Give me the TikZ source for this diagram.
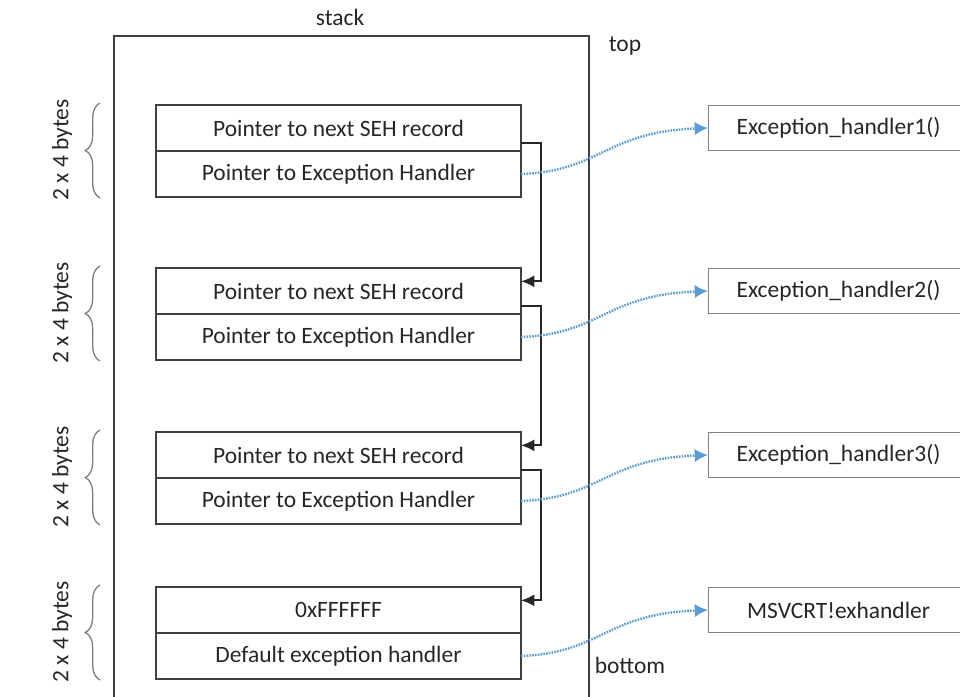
\documentclass[tikz,border=0pt]{standalone}
\usepackage{fontspec}
\setmainfont{Carlito}
\usepackage{tikz}
\usetikzlibrary{arrows.meta,positioning,decorations.pathreplacing}
\definecolor{ink}{HTML}{262626}
\definecolor{frame}{HTML}{404040}
\definecolor{soft}{HTML}{808080}
\definecolor{hookblue}{HTML}{5B9BD5}

\begin{document}
\begin{tikzpicture}[x=0.75pt,y=-0.75pt,every node/.style={font=\fontsize{17.6}{21}\selectfont,text=ink,align=center},rec/.style={draw=frame,line width=1.3pt,minimum width=273.75pt,minimum height=34.5pt,inner sep=0pt,outer sep=0pt},handler/.style={draw=soft,line width=0.9pt,minimum width=195pt,minimum height=33.75pt,inner sep=0pt,anchor=west},link/.style={-{Latex[length=10pt,width=9pt]},line width=1.4pt,black!85},hook/.style={-{Latex[length=10pt,width=10pt]},dash pattern=on 1.2pt off 0.9pt,line width=1.8pt,hookblue},bracket/.style={decorate,decoration={brace,amplitude=11pt},draw=soft,line width=1pt}]
\useasboundingbox (0,0) rectangle (960,696);
\clip (0,0) rectangle (960,696);
\node[draw=frame,line width=1.2pt,minimum width=356.25pt,minimum height=525pt,inner sep=0pt,anchor=north west] (stack) at (113,35) {};
\node (stacklbl) at (340,17) {stack};
\node (toplbl) at (625,46) {top};
\node (botlbl) at (630,665) {bottom};
% SEH records
\node[rec] (r1a) at (338.5,128) {Pointer to next SEH record};
\node[rec,below=0pt of r1a] (r1b) {Pointer to Exception Handler};
\node[rec] (r2a) at (338.5,291) {Pointer to next SEH record};
\node[rec,below=0pt of r2a] (r2b) {Pointer to Exception Handler};
\node[rec] (r3a) at (338.5,455) {Pointer to next SEH record};
\node[rec,below=0pt of r3a] (r3b) {Pointer to Exception Handler};
\node[rec] (r4a) at (338.5,610) {0xFFFFFF};
\node[rec,below=0pt of r4a] (r4b) {Default exception handler};
% handlers
\node[handler] (h1) at (708,128) {Exception\_handler1()};
\node[handler] (h2) at (708,291) {Exception\_handler2()};
\node[handler] (h3) at (708,455) {Exception\_handler3()};
\node[handler] (h4) at (708,610) {MSVCRT!exhandler};
% sizes
\draw[bracket] (100,198) -- (100,103);
\draw[bracket] (100,361) -- (100,266);
\draw[bracket] (100,525) -- (100,430);
\draw[bracket] (100,680) -- (100,585);
\node[rotate=90] (s1) at (62,150) {2 x 4 bytes};
\node[rotate=90] (s2) at (62,313) {2 x 4 bytes};
\node[rotate=90] (s3) at (62,477) {2 x 4 bytes};
\node[rotate=90] (s4) at (62,632) {2 x 4 bytes};
\draw[link] ([yshift=6pt]r1a.south east) -- ++(15pt,0) |- ([yshift=-10pt]r2a.north east);
\draw[link] ([yshift=6pt]r2a.south east) -- ++(15pt,0) |- ([yshift=-10pt]r3a.north east);
\draw[link] ([yshift=6pt]r3a.south east) -- ++(15pt,0) |- ([yshift=-10pt]r4a.north east);
\draw[hook] (r1b.east) .. controls +(80,-3) and +(-103,4) .. (h1.west);
\draw[hook] (r2b.east) .. controls +(80,-3) and +(-103,4) .. (h2.west);
\draw[hook] (r3b.east) .. controls +(80,-3) and +(-103,4) .. (h3.west);
\draw[hook] (r4b.east) .. controls +(80,-3) and +(-103,4) .. (h4.west);
\end{tikzpicture}
\end{document}
